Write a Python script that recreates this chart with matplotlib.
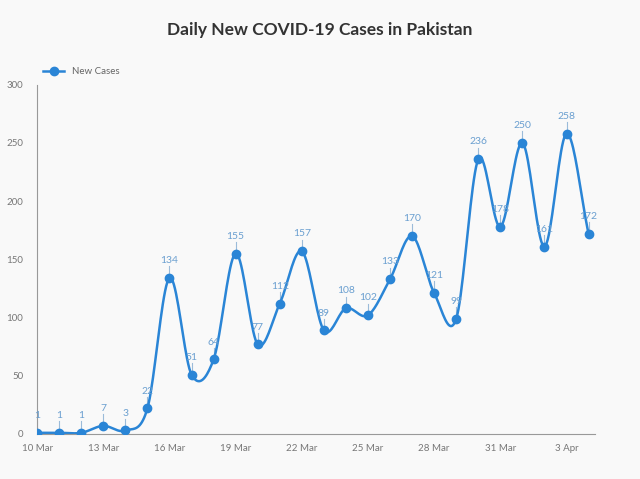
import numpy as np
import matplotlib
matplotlib.use("Agg")
import matplotlib.pyplot as plt
import matplotlib.dates as mdates
import datetime as dt

plt.rcParams['font.family'] = ['Lato', 'DejaVu Sans']

start = dt.date(2020, 3, 10)
dates = [start + dt.timedelta(days=i) for i in range(26)]
cases = [1, 1, 1, 7, 3, 22, 134, 51, 64, 155, 77, 112, 157, 89, 108, 102,
         133, 170, 121, 99, 236, 178, 250, 161, 258, 172]
tick_dates = [dt.date(2020, 3, 10) + dt.timedelta(days=3 * k) for k in range(9)]
tick_labels = ["10 Mar", "13 Mar", "16 Mar", "19 Mar", "22 Mar", "25 Mar",
               "28 Mar", "31 Mar", "3 Apr"]

line_c = "#2a85d6"
lab_c = "#6a9fd0"
bg = "#f9f9f9"

fig = plt.figure(figsize=(6.4, 4.79), dpi=100, facecolor=bg)
ax = fig.add_axes([0.058, 0.094, 0.872, 0.729], facecolor=bg)

x = mdates.date2num(dates)
y = np.array(cases, dtype=float)

# Catmull-Rom smoothing for the drawn curve
def catmull(xs, ys, n=20):
    px = np.concatenate([[2 * xs[0] - xs[1]], xs, [2 * xs[-1] - xs[-2]]])
    py = np.concatenate([[2 * ys[0] - ys[1]], ys, [2 * ys[-1] - ys[-2]]])
    ox, oy = [], []
    for i in range(1, len(px) - 2):
        t = np.linspace(0, 1, n, endpoint=False)
        for arr, out in ((px, ox), (py, oy)):
            p0, p1, p2, p3 = arr[i - 1], arr[i], arr[i + 1], arr[i + 2]
            out.extend(0.5 * ((2 * p1) + (-p0 + p2) * t +
                              (2 * p0 - 5 * p1 + 4 * p2 - p3) * t ** 2 +
                              (-p0 + 3 * p1 - 3 * p2 + p3) * t ** 3))
    ox.append(xs[-1]); oy.append(ys[-1])
    return np.array(ox), np.array(oy)

sx, sy = catmull(x, y)
ax.plot(sx, sy, color=line_c, lw=1.8, zorder=2)
ax.plot(x, y, 'o', color=line_c, ms=6, zorder=3)
ax.plot([], [], '-o', color=line_c, lw=1.8, ms=6, label="New Cases")

for xi, yi in zip(x, y):
    ax.plot([xi, xi], [yi + 4, yi + 10], color="#9bbbd9", lw=0.8, zorder=1)
    ax.text(xi, yi + 11, f"{int(yi)}", ha='center', va='bottom', fontsize=7.5,
            color=lab_c)

ax.set_xlim(x[0], mdates.date2num(dt.date(2020, 4, 4)) + 0.3)
ax.set_ylim(0, 300)
ax.set_yticks([0, 50, 100, 150, 200, 250, 300])
ax.set_xticks(mdates.date2num(tick_dates))
ax.set_xticklabels(tick_labels)
ax.tick_params(axis='x', length=0, labelsize=7, colors="#777777", pad=7)
ax.tick_params(axis='y', length=0, labelsize=7, colors="#777777", pad=10)
for s in ['top', 'right']:
    ax.spines[s].set_visible(False)
for s in ['left', 'bottom']:
    ax.spines[s].set_color("#999999")
    ax.spines[s].set_linewidth(0.8)

leg = ax.legend(loc='lower left', bbox_to_anchor=(-0.005, 1.0), frameon=False,
                fontsize=7, handlelength=2.2, labelcolor="#666666")

fig.text(0.5, 0.937, "Daily New COVID-19 Cases in Pakistan", ha='center',
         va='center', fontsize=12.5, color="#333333", fontweight='bold')

fig.savefig("out.png", dpi=100, facecolor=bg)
